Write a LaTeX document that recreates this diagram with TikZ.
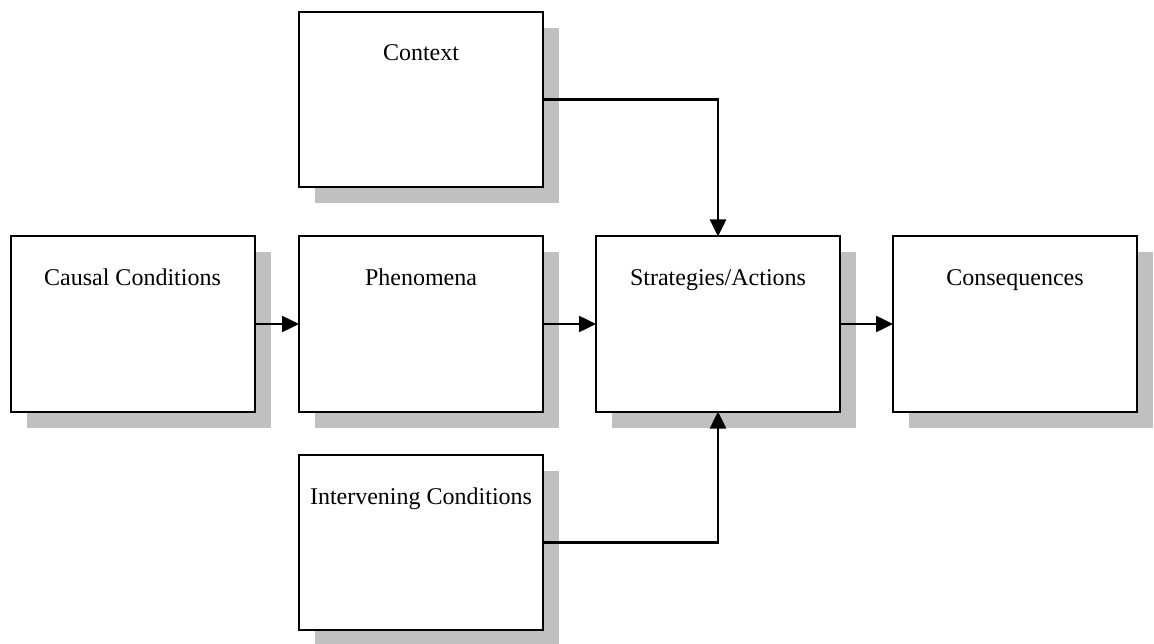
\documentclass[tikz,border=0pt]{standalone}
\usepackage{fontspec}
\setmainfont{Liberation Serif}
\usetikzlibrary{arrows.meta,shadows}
\definecolor{shadowgray}{RGB}{192,192,192}
\begin{document}
\begin{tikzpicture}[x=1pt,y=-1pt,
  box/.style={draw=black, line width=2pt, fill=white, rectangle,
    minimum width=244pt, minimum height=175pt, inner sep=0pt, outer sep=0pt,
    drop shadow={shadow xshift=16pt, shadow yshift=-16pt, fill=shadowgray, opacity=1}},
  lbl/.style={anchor=base, inner sep=0pt, font=\fontsize{24}{28}\selectfont},
  conn/.style={draw=black, line width=2.5pt, -{Triangle[length=17pt,width=16pt]}}]
  \useasboundingbox (0,0) rectangle (1154,644);
  % the six boxes
  \node[box] (context) at (421,99.5) {};
  \node[box] (causal)  at (132.5,324) {};
  \node[box] (phen)    at (421,324) {};
  \node[box] (strat)   at (718,324) {};
  \node[box] (conseq)  at (1015,324) {};
  \node[box] (interv)  at (421,542.5) {};
  % box titles
  \node[lbl] (context-t) at ([yshift=-49pt]context.north) {Context};
  \node[lbl] (causal-t)  at ([yshift=-49pt]causal.north) {Causal Conditions};
  \node[lbl] (phen-t)    at ([yshift=-49pt]phen.north) {Phenomena};
  \node[lbl] (strat-t)   at ([yshift=-49pt]strat.north) {Strategies/Actions};
  \node[lbl] (conseq-t)  at ([yshift=-49pt]conseq.north) {Consequences};
  \node[lbl] (interv-t)  at ([yshift=-49pt]interv.north) {Intervening Conditions};
  % connectors
  \draw[conn] (causal) -- (phen);
  \draw[conn] (phen) -- (strat);
  \draw[conn] (strat) -- (conseq);
  \draw[conn] (context.east) -| (strat.north);
  \draw[conn] (interv.east) -| (strat.south);
\end{tikzpicture}
\end{document}
